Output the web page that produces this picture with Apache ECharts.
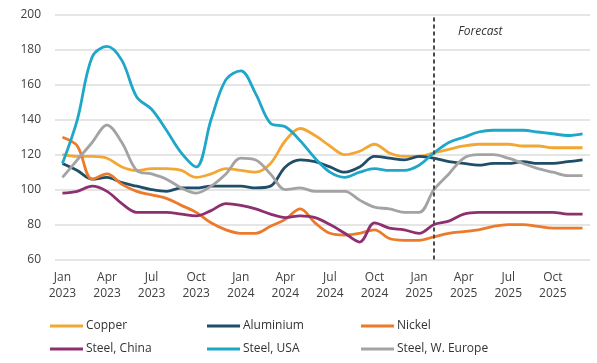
<!DOCTYPE html>
<html>
<head>
<meta charset="utf-8">
<script src="https://cdn.jsdelivr.net/npm/echarts@6/dist/echarts.min.js"></script>
<style>
  html, body { margin: 0; padding: 0; background: #fff; }
  #chart { width: 597px; height: 363px; }
</style>
</head>
<body>
<div id="chart"></div>
<script>
// Monthly price indices, Jan 2023 – Dec 2025 (forecast from Feb 2025)
const months = ['Jan','Feb','Mar','Apr','May','Jun','Jul','Aug','Sep','Oct','Nov','Dec'];
const years = [2023, 2024, 2025];
const categories = [];
years.forEach(y => months.forEach(m => categories.push(m + '\n' + y)));

const copper = [120,119,119,118,113,111,112,112,111,107,109,112,
                111,110,115,128,135,131,125,120,122,126,121,119,
                119,121,123,125,126,126,126,125,125,124,124,124];
const aluminium = [115,111,106,107,104,102,100,99,101,101,102,102,
                   102,101,102,113,117,116,113,110,113,119,118,117,
                   119,118,116,115,114,115,115,116,115,115,116,117];
const nickel = [130,125,106,109,103,99,97,95,91,87,81,77,
                75,75,79,83,89,81,75,74,75,77,72,71,
                71,73,75,76,77,79,80,80,79,78,78,78];
const steelChina = [98,99,102,99,92,87,87,87,86,85,88,92,
                    91,89,86,84,85,84,80,75,70,81,78,77,
                    75,80,82,86,87,87,87,87,87,87,86,86];
const steelUSA = [115,140,176,182,174,153,146,134,121,113,140,163,
                  168,155,138,136,128,118,110,107,110,112,111,111,
                  114,121,127,130,133,134,134,134,133,132,131,132];
const steelEurope = [107,117,127,137,127,111,109,106,101,98,102,109,
                     118,117,109,100,101,99,99,99,94,90,89,87,
                     87,100,109,118,120,120,118,115,112,110,108,108];

const forecastStart = 'Feb\n2025';

const seriesDefs = [
  { name: 'Copper', data: copper, color: '#F2A735' },
  { name: 'Aluminium', data: aluminium, color: '#1F4E68' },
  { name: 'Nickel', data: nickel, color: '#EC7A2A' },
  { name: 'Steel, China', data: steelChina, color: '#8E2F6F' },
  { name: 'Steel, USA', data: steelUSA, color: '#1EA7C8' },
  { name: 'Steel, W. Europe', data: steelEurope, color: '#A3A3A3' }
];

const fontFamily = '"Open Sans", "Liberation Sans", sans-serif';

const series = seriesDefs.map((s, i) => {
  const ser = {
    name: s.name,
    type: 'line',
    data: s.data,
    smooth: 0.35,
    showSymbol: false,
    symbol: 'none',
    lineStyle: { width: 2.8, color: s.color },
    itemStyle: { color: s.color },
    z: 3
  };
  if (i === 0) {
    ser.markLine = {
      silent: true,
      symbol: 'none',
      label: { show: false },
      lineStyle: { type: [4, 3], color: '#4a4a4a', width: 2 },
      data: [{ xAxis: forecastStart }]
    };
  }
  return ser;
});

const legendBase = {
  orient: 'vertical',
  top: 320,
  height: 44,
  padding: 0,
  itemWidth: 33,
  itemHeight: 3,
  itemGap: 11,
  icon: 'rect',
  textStyle: { fontSize: 12, color: '#333', fontFamily: fontFamily, padding: [0, 0, 0, -2] }
};

const chart = echarts.init(document.getElementById('chart'), null, { renderer: 'canvas' });
chart.setOption({
  animation: false,
  backgroundColor: '#fff',
  grid: { left: 55, right: 7, top: 15, bottom: 103.5 },
  xAxis: {
    type: 'category',
    data: categories,
    boundaryGap: true,
    axisLine: { show: false },
    axisTick: { show: false },
    axisLabel: {
      interval: 2,
      color: '#404040',
      fontSize: 12,
      lineHeight: 16,
      margin: 10,
      fontFamily: fontFamily
    },
    splitLine: { show: false }
  },
  yAxis: {
    type: 'value',
    min: 60,
    max: 200,
    interval: 20,
    axisLine: { show: false },
    axisTick: { show: false },
    axisLabel: { color: '#404040', fontSize: 12, margin: 14, fontFamily: fontFamily },
    splitLine: { lineStyle: { color: '#dcdcdc', width: 1.5 } }
  },
  legend: [
    Object.assign({}, legendBase, { left: 50, data: ['Copper', 'Steel, China'] }),
    Object.assign({}, legendBase, { left: 207, data: ['Aluminium', 'Steel, USA'] }),
    Object.assign({}, legendBase, { left: 361, data: ['Nickel', 'Steel, W. Europe'] })
  ],
  graphic: [{
    type: 'text',
    left: 458,
    top: 26,
    style: {
      text: 'Forecast',
      font: 'italic 12px ' + fontFamily,
      fill: '#333'
    }
  }],
  series: series
});
</script>
</body>
</html>
